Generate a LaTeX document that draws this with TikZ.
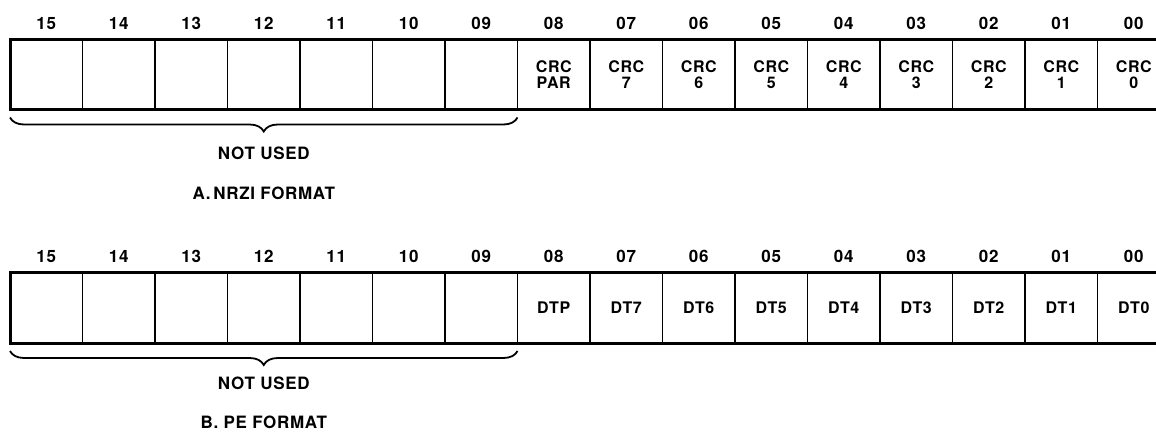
\documentclass[tikz,border=0pt]{standalone}
\usepackage{fontspec}
\setmainfont{TeX Gyre Heros}[LetterSpace=4]
\usepackage{tikz}
\usetikzlibrary{positioning,decorations.pathreplacing}

\tikzset{
  bitcell/.style={draw, line width=1.8pt, minimum width=72.5pt, minimum height=70pt,
    inner sep=0pt, outer sep=0pt, align=center, font=\fontsize{16}{16}\selectfont\bfseries},
  bitnum/.style={font=\fontsize{17}{18}\selectfont\bfseries},
  frame/.style={line width=3pt},
  unused/.style={decorate, decoration={brace, mirror, amplitude=14pt}, line width=1.8pt},
}

\begin{document}
\begin{tikzpicture}[x=1pt,y=-1pt]
		
		\useasboundingbox (0,0) rectangle (1156,431);
		\clip (0,0) rectangle (1156,431);
		
		% A. NRZI format
		\foreach \n/\t [count=\i from 0] in {15/,14/,13/,12/,11/,10/,09/,
			08/{CRC\\PAR},07/{CRC\\7},06/{CRC\\6},05/{CRC\\5},04/{CRC\\4},
			03/{CRC\\3},02/{CRC\\2},01/{CRC\\1},00/{CRC\\0}}
		{
			\node[bitcell] (a\n) at ({10+72.5*(\i+0.5)},74.5) {\t};
			\node[bitnum, above=6pt of a\n] (na\n) {\n};
		}
		
		\draw[frame] (a15.north west) rectangle (a00.south east);
		
		\draw[unused] ([yshift=-8pt]a15.south west) -- ([yshift=-8pt]a09.south east);
		
		\node[bitnum] (nua) at (263.75,153) {NOT USED};
		
		\node[bitnum] (fmta) at (263.75,193) {A.\,NRZI FORMAT};
		
		% B. PE format
		\foreach \n/\t [count=\i from 0] in {15/,14/,13/,12/,11/,10/,09/,
			08/DTP,07/DT7,06/DT6,05/DT5,04/DT4,03/DT3,02/DT2,01/DT1,00/DT0}
		{
			\node[bitcell, minimum height=71pt] (b\n) at ({10+72.5*(\i+0.5)},307.5) {\t};
			\node[bitnum, above=6pt of b\n] (nb\n) {\n};
		}
		
		\draw[frame] (b15.north west) rectangle (b00.south east);
		
		\draw[unused] ([yshift=-8pt]b15.south west) -- ([yshift=-8pt]b09.south east);
		
		\node[bitnum] (nub) at (263.75,383) {NOT USED};
		
		\node[bitnum] (fmtb) at (263.75,422) {B. PE FORMAT};
		
	\end{tikzpicture}
\end{document}
